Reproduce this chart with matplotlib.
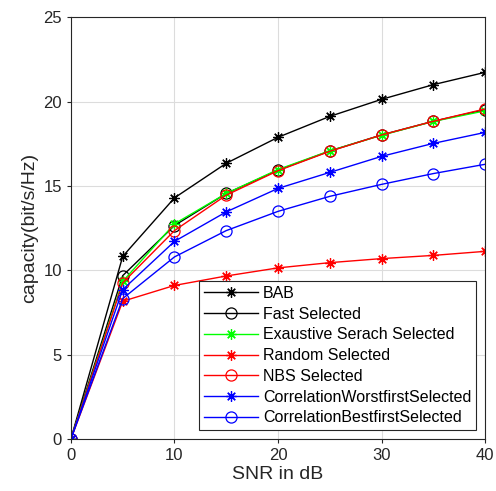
import matplotlib
matplotlib.use("Agg")
import matplotlib.pyplot as plt

plt.rcParams['font.family'] = ['Liberation Sans', 'DejaVu Sans']

snr = [0, 5, 10, 15, 20, 25, 30, 35, 40]

bab = [0, 10.82, 14.29, 16.34, 17.88, 19.12, 20.13, 21.0, 21.73]
fast = [0, 9.68, 12.65, 14.55, 15.93, 17.07, 18.02, 18.83, 19.52]
exhaustive = [0, 9.34, 12.75, 14.55, 15.97, 17.08, 18.0, 18.82, 19.45]
random_sel = [0, 8.16, 9.1, 9.66, 10.14, 10.45, 10.69, 10.88, 11.12]
nbs = [0, 9.25, 12.35, 14.45, 15.9, 17.05, 18.02, 18.83, 19.56]
corr_worst = [0, 8.85, 11.71, 13.46, 14.85, 15.8, 16.75, 17.52, 18.17]
corr_best = [0, 8.32, 10.79, 12.35, 13.49, 14.38, 15.09, 15.73, 16.28]

# matlab-style '*' is an 8-spoke asterisk
ast = (8, 2, 0)
series = [
    (bab, 'k', ast, 'BAB'),
    (fast, 'k', 'o', 'Fast Selected'),
    (exhaustive, '#00ff00', ast, 'Exaustive Serach Selected'),
    (random_sel, 'r', ast, 'Random Selected'),
    (nbs, 'r', 'o', 'NBS Selected'),
    (corr_worst, 'b', ast, 'CorrelationWorstfirstSelected'),
    (corr_best, 'b', 'o', 'CorrelationBestfirstSelected'),
]

fig = plt.figure(figsize=(4.96, 4.91), dpi=100)
ax = fig.add_axes([0.143, 0.106, 0.835, 0.859])

for y, c, m, lab in series:
    ax.plot(snr, y, color=c, marker=m, markersize=7.5 if m == ast else 8,
            fillstyle='none', markeredgewidth=0.9, linewidth=1.0, label=lab)

ax.set_xlim(0, 40)
ax.set_ylim(0, 25)
ax.set_xticks([0, 10, 20, 30, 40])
ax.set_yticks([0, 5, 10, 15, 20, 25])
ax.grid(True, color='#dcdcdc', linewidth=0.8)
ax.set_axisbelow(True)
ax.tick_params(direction='out', length=3, labelsize=12, colors='#262626')
for s in ax.spines.values():
    s.set_color('#262626')
    s.set_linewidth(0.8)
ax.set_xlabel('SNR in dB', fontsize=14, color='#262626', labelpad=2)
ax.set_ylabel('capacity(bit/s/Hz)', fontsize=14, color='#262626', labelpad=4)

leg = ax.legend(loc='lower right', fontsize=11.5, handlelength=3.4, handletextpad=0.3,
                labelspacing=0.36, borderaxespad=0.55, fancybox=False, framealpha=1,
                edgecolor='#262626', borderpad=0.3)
leg.get_frame().set_linewidth(0.8)

fig.savefig('out.png', dpi=100)
